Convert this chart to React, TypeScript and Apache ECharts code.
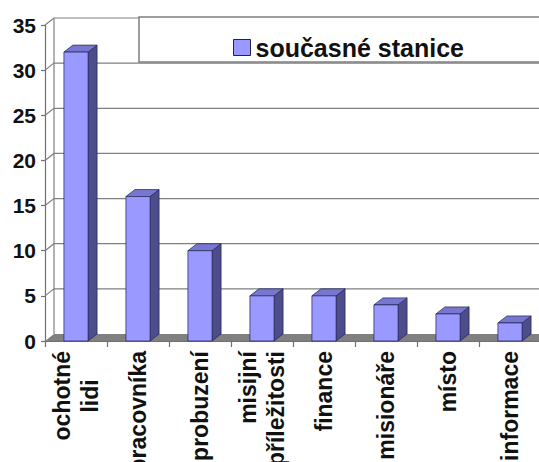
import React, { useEffect, useRef } from "react";
import * as echarts from "echarts";

const categories = [
  "ochotné\nlidi",
  "pracovníka",
  "probuzení",
  "misijní\npříležitosti",
  "finance",
  "misionáře",
  "místo",
  "informace",
];
const values = [32, 16, 10, 5, 5, 4, 3, 2];
const yTicks = [0, 5, 10, 15, 20, 25, 30, 35];
const seriesName = "současné stanice";

const DX = 9;
const DY = -7;
const FONT = "'Liberation Sans', Arial, sans-serif";
const XFS = 23;

export default function App() {
  const ref = useRef<HTMLDivElement>(null);
  useEffect(() => {
    if (!ref.current) return;
    const chart = echarts.init(ref.current, undefined, { renderer: "svg" });
    const option: any = {
      animation: false,
      backgroundColor: "#ffffff",
      grid: {
        left: 45,
        right: -2,
        top: 25,
        bottom: 121,
        containLabel: false,
        outerBoundsMode: "none",
      },
      legend: {
        data: [
          {
            name: seriesName,
            icon: "rect",
            itemStyle: { color: "#9999FF", borderColor: "#222244", borderWidth: 1 },
          },
        ],
        left: 228,
        top: 30,
        itemWidth: 17,
        itemHeight: 16,
        itemGap: 5,
        textStyle: { fontSize: 25, fontWeight: "bold", color: "#111", fontFamily: FONT },
        z: 6,
      },
      graphic: {
        elements: [
          {
            type: "rect",
            z: 5,
            shape: { x: 139, y: 17, width: 420, height: 45 },
            style: { fill: "#ffffff", stroke: "#7f7f7f", lineWidth: 1.5 },
          },
        ],
      },
      xAxis: {
        type: "category",
        data: categories,
        boundaryGap: true,
        axisLine: { show: true, lineStyle: { color: "#707070", width: 1.2 } },
        axisTick: { show: true, length: 6, lineStyle: { color: "#707070", width: 1.2 } },
        axisLabel: {
          rotate: 90,
          margin: 10,
          interval: 0,
          color: "#111",
          fontSize: XFS,
          fontWeight: "bold",
          fontFamily: FONT,
          lineHeight: 28,
          formatter: (v: string) =>
            v === "ochotné\nlidi" ? "ochotné\n{l|lidi}" : v,
          rich: {
            l: {
              color: "#111",
              fontSize: XFS,
              fontWeight: "bold",
              fontFamily: FONT,
              lineHeight: 28,
              width: 90,
              align: "center",
            },
          },
        },
        splitLine: { show: false },
      },
      yAxis: {
        type: "value",
        min: 0,
        max: 35,
        interval: 5,
        axisLine: { show: true, lineStyle: { color: "#707070", width: 1.2 } },
        axisTick: { show: true, inside: false, length: 4, lineStyle: { color: "#707070", width: 1.2 } },
        axisLabel: {
          margin: 9,
          color: "#111",
          fontSize: 21,
          fontWeight: "bold",
          fontFamily: FONT,
        },
        splitLine: { show: false },
      },
      series: [
        {
          type: "custom",
          name: "walls",
          silent: true,
          z: 1,
          data: yTicks.map((v) => [0, v]),
          encode: { x: 0, y: 1 },
          renderItem: (params: any, api: any) => {
            const cs = params.coordSys;
            const v = api.value(1);
            const y = api.coord([0, v])[1];
            const x0 = cs.x;
            const x1 = cs.x + cs.width + 30;
            if (v === 0) {
              const yTop = api.coord([0, yTicks[yTicks.length - 1]])[1];
              return {
                type: "group",
                children: [
                  {
                    type: "polygon",
                    shape: { points: [[x0, y], [x0 + DX, y + DY], [x1, y + DY], [x1, y]] },
                    style: { fill: "#808080" },
                  },
                  {
                    type: "line",
                    shape: { x1: x0 + DX, y1: y + DY, x2: x0 + DX, y2: yTop + DY },
                    style: { stroke: "#808080", lineWidth: 1.2 },
                  },
                ],
              };
            }
            return {
              type: "polyline",
              shape: { points: [[x0, y], [x0 + DX, y + DY], [x1, y + DY]] },
              style: { stroke: "#808080", lineWidth: 1.2, fill: null },
            };
          },
        },
        {
          type: "custom",
          name: seriesName,
          z: 3,
          itemStyle: { color: "#9999FF" },
          data: values.map((v, i) => [i, v]),
          encode: { x: 0, y: 1 },
          renderItem: (params: any, api: any) => {
            const idx = api.value(0);
            const v = api.value(1);
            const base = api.coord([idx, 0]);
            const top = api.coord([idx, v]);
            const band = api.size([1, 0])[0];
            const w = band * 0.39;
            const x = base[0] - w / 2;
            const yT = top[1];
            const yB = base[1];
            const stroke = "#222255";
            return {
              type: "group",
              children: [
                {
                  type: "polygon",
                  shape: {
                    points: [
                      [x + w, yT],
                      [x + w + DX, yT + DY],
                      [x + w + DX, yB + DY],
                      [x + w, yB],
                    ],
                  },
                  style: { fill: "#4D4D8C", stroke, lineWidth: 0.7 },
                },
                {
                  type: "polygon",
                  shape: {
                    points: [
                      [x, yT],
                      [x + DX, yT + DY],
                      [x + w + DX, yT + DY],
                      [x + w, yT],
                    ],
                  },
                  style: { fill: "#7777D0", stroke, lineWidth: 0.7 },
                },
                {
                  type: "rect",
                  shape: { x, y: yT, width: w, height: yB - yT },
                  style: { fill: "#9999FF", stroke, lineWidth: 0.7 },
                },
              ],
            };
          },
        },
      ],
    };
    chart.setOption(option);
    return () => chart.dispose();
  }, []);
  return (
    <div
      ref={ref}
      style={{ position: "absolute", left: 0, top: 0, width: 539, height: 462 }}
    />
  );
}
